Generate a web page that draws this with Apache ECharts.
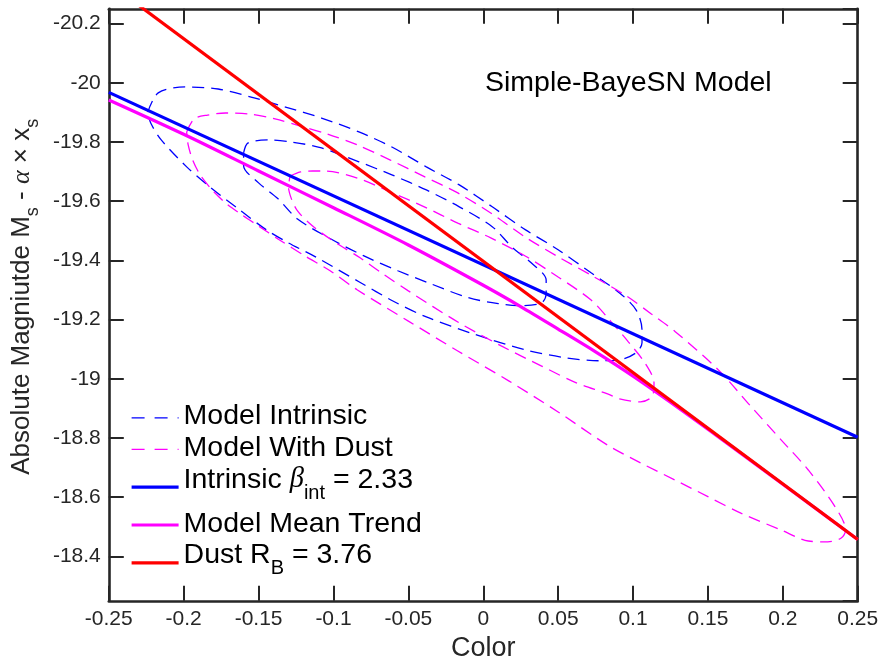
<!DOCTYPE html>
<html>
<head>
<meta charset="utf-8">
<title>Simple-BayeSN Model</title>
<script src="https://cdn.jsdelivr.net/npm/echarts@6/dist/echarts.min.js"></script>
<style>
  html, body { margin: 0; padding: 0; background: #fff; }
  #chart { width: 881px; height: 658px; }
</style>
</head>
<body>
<div id="chart"></div>
<script>
// axes: color on x, corrected absolute magnitude on y (reversed)
var colorRange = [-0.25, 0.25];
var colorStep = 0.05;
var magRange = [-20.25, -18.25];

// intrinsic model contours, [color, magnitude]
var intrinsicOuter = [
  [-0.224, -19.901], [-0.217, -19.966], [-0.199, -19.986], [-0.177, -19.979], [-0.155, -19.952],
  [-0.132, -19.918], [-0.108, -19.881], [-0.083, -19.834], [-0.061, -19.783], [-0.038, -19.716],
  [-0.016, -19.655], [0.006, -19.581], [0.028, -19.504], [0.050, -19.436], [0.072, -19.358],
  [0.091, -19.290], [0.102, -19.233], [0.106, -19.166], [0.106, -19.122], [0.102, -19.088],
  [0.091, -19.064], [0.077, -19.061], [0.055, -19.071], [0.028, -19.098], [-0.005, -19.149],
  [-0.038, -19.209], [-0.060, -19.262], [-0.083, -19.328], [-0.112, -19.412], [-0.130, -19.459],
  [-0.145, -19.504], [-0.163, -19.572], [-0.183, -19.650], [-0.198, -19.716], [-0.215, -19.807],
  [-0.222, -19.864], [-0.224, -19.901]
];
var intrinsicInner = [
  [-0.160, -19.763], [-0.157, -19.797], [-0.143, -19.807], [-0.128, -19.800], [-0.108, -19.780],
  [-0.083, -19.733], [-0.061, -19.689], [-0.038, -19.638], [-0.016, -19.581], [0.006, -19.514],
  [0.019, -19.446], [0.032, -19.392], [0.042, -19.334], [0.042, -19.290], [0.039, -19.257],
  [0.025, -19.247], [0.010, -19.254], [-0.010, -19.274], [-0.035, -19.321], [-0.057, -19.365],
  [-0.080, -19.416], [-0.102, -19.473], [-0.124, -19.540], [-0.137, -19.608], [-0.150, -19.662],
  [-0.160, -19.720], [-0.160, -19.763]
];

// model with dust contours
var dustOuter = [
  [-0.198, -19.834], [-0.193, -19.878], [-0.184, -19.891], [-0.172, -19.898], [-0.157, -19.895],
  [-0.139, -19.878], [-0.122, -19.854], [-0.104, -19.827], [-0.084, -19.790], [-0.062, -19.739],
  [-0.039, -19.682], [-0.017, -19.628], [0.005, -19.560], [0.028, -19.479], [0.050, -19.412],
  [0.072, -19.350], [0.095, -19.282], [0.112, -19.220], [0.128, -19.160], [0.157, -19.030],
  [0.179, -18.905], [0.199, -18.793], [0.217, -18.692], [0.235, -18.567], [0.242, -18.489],
  [0.239, -18.462], [0.230, -18.449], [0.217, -18.452], [0.199, -18.489], [0.172, -18.546],
  [0.150, -18.602], [0.128, -18.658], [0.105, -18.716], [0.083, -18.776], [0.050, -18.888],
  [0.017, -18.993], [-0.017, -19.094], [-0.050, -19.195], [-0.084, -19.300], [-0.102, -19.364],
  [-0.119, -19.415], [-0.136, -19.469], [-0.150, -19.516], [-0.162, -19.557], [-0.172, -19.594],
  [-0.181, -19.638], [-0.189, -19.689], [-0.194, -19.739], [-0.197, -19.790], [-0.198, -19.834]
];
var dustInner = [
  [-0.129, -19.685], [-0.122, -19.699], [-0.114, -19.702], [-0.106, -19.702], [-0.084, -19.678],
  [-0.062, -19.631], [-0.039, -19.580], [-0.017, -19.526], [0.005, -19.476], [0.028, -19.415],
  [0.050, -19.344], [0.072, -19.266], [0.085, -19.195], [0.097, -19.124], [0.108, -19.053],
  [0.114, -18.986], [0.113, -18.942], [0.105, -18.922], [0.091, -18.932], [0.083, -18.949],
  [0.061, -18.989], [0.039, -19.043], [0.012, -19.111], [-0.017, -19.192], [-0.050, -19.297],
  [-0.066, -19.351], [-0.082, -19.408], [-0.096, -19.452], [-0.108, -19.493], [-0.117, -19.530],
  [-0.124, -19.567], [-0.128, -19.607], [-0.130, -19.648], [-0.129, -19.685]
];

// straight relations (beta_int = 2.33, R_B = 3.76)
var intrinsicColor = [-0.25, 0.25];
var intrinsicMag = [-19.9675, -18.8025];
var dustColor = [-0.25, 0.25];
var dustMag = [-20.337, -18.457];

// model mean trend
var trendColor = [-0.25, -0.2, -0.15, -0.1, -0.05, 0, 0.025, 0.05, 0.075, 0.1, 0.125, 0.15, 0.2, 0.25];
var trendMag = [-19.942, -19.826, -19.702, -19.578, -19.452, -19.316, -19.244, -19.168, -19.091, -19.009, -18.921, -18.830, -18.644, -18.457];

var FONT = "'Liberation Sans', Arial, Helvetica, sans-serif";
var GREEK = "'Liberation Serif', 'DejaVu Serif', serif";
var INK = '#262626';
var BLUE = '#0000ff', MAGENTA = '#ff00ff', RED = '#ff0000';

function zip(xs, ys) {
  return xs.map(function (x, i) { return [x, ys[i]]; });
}

var legendText = {
  'Model Intrinsic': '{m|Model Intrinsic}',
  'Model With Dust': '{m|Model With Dust}',
  'Intrinsic beta': '{m|Intrinsic }{g|β}{sub|int}{m| = 2.33}',
  'Model Mean Trend': '{m|Model Mean Trend}',
  'Dust RB': '{m|Dust R}{sub|B}{m| = 3.76}'
};

function contour(name, data, color) {
  return {
    name: name,
    type: 'line',
    data: data,
    smooth: 0.3,
    symbol: 'none',
    lineStyle: { color: color, width: 1.3, type: [12, 7] },
    itemStyle: { color: color },
    z: 2
  };
}

function relation(name, data, color, smooth) {
  return {
    name: name,
    type: 'line',
    data: data,
    smooth: smooth,
    symbol: 'none',
    lineStyle: { color: color, width: 3.2 },
    itemStyle: { color: color },
    z: 3
  };
}

function axisCommon() {
  return {
    type: 'value',
    axisLine: { show: true, onZero: false, lineStyle: { color: INK, width: 2.6 } },
    axisTick: { show: true, inside: true, length: 15, lineStyle: { color: INK, width: 2 } },
    splitLine: { show: false }
  };
}

var xBottom = Object.assign(axisCommon(), {
  position: 'bottom',
  min: colorRange[0], max: colorRange[1], interval: colorStep,
  name: 'Color', nameLocation: 'middle', nameGap: 26,
  nameTextStyle: { fontFamily: FONT, fontSize: 27, color: INK },
  axisLabel: { fontFamily: FONT, fontSize: 21, color: INK, margin: 8 }
});
var xTop = Object.assign(axisCommon(), {
  position: 'top',
  min: colorRange[0], max: colorRange[1], interval: colorStep,
  axisLabel: { show: false }
});
var yLeft = Object.assign(axisCommon(), {
  position: 'left', inverse: true,
  min: magRange[0], max: magRange[1], splitNumber: 10, minInterval: 0.2, maxInterval: 0.2,
  name: 'Absolute Magniutde M{sub|s} - {g|α} × x{sub|s}',
  nameLocation: 'middle', nameGap: 65,
  nameTextStyle: {
    fontFamily: FONT, fontSize: 26, color: INK, lineHeight: 40,
    padding: [0, 0, 0, 16],
    rich: {
      sub: { fontFamily: FONT, fontSize: 18, verticalAlign: 'bottom' },
      g: { fontFamily: GREEK, fontStyle: 'italic', fontSize: 26 }
    }
  },
  axisLabel: { fontFamily: FONT, fontSize: 21, color: INK, margin: 8, showMinLabel: false, showMaxLabel: false }
});
var yRight = Object.assign(axisCommon(), {
  position: 'right', inverse: true,
  min: magRange[0], max: magRange[1], splitNumber: 10, minInterval: 0.2, maxInterval: 0.2,
  axisLabel: { show: false }
});

var chart = echarts.init(document.getElementById('chart'), null, { renderer: 'canvas' });

chart.setOption({
  animation: false,
  backgroundColor: '#fff',
  grid: { left: 108.8, right: 23.3, top: 8.8, bottom: 57.2, containLabel: false, outerBoundsMode: 'none' },
  xAxis: [xBottom, xTop],
  yAxis: [yLeft, yRight],
  legend: {
    orient: 'vertical',
    left: 130,
    top: 402,
    padding: 0,
    itemGap: 0,
    itemWidth: 47,
    itemHeight: 14,
    selectedMode: false,
    itemStyle: { opacity: 0 },
    lineStyle: { width: 'inherit' },
    textStyle: {
      fontFamily: FONT, fontSize: 28.5, color: '#000', lineHeight: 31.6,
      rich: {
        m: { fontFamily: FONT, fontSize: 28.5, verticalAlign: 'top' },
        g: { fontFamily: GREEK, fontStyle: 'italic', fontSize: 28.5, verticalAlign: 'top' },
        sub: { fontFamily: FONT, fontSize: 20, verticalAlign: 'top', padding: [18, 0, 0, 0] }
      }
    },
    formatter: function (name) { return legendText[name] || name; },
    data: [
      { name: 'Model Intrinsic', lineStyle: { type: [13, 10] } },
      { name: 'Model With Dust', lineStyle: { type: [13, 10] } },
      { name: 'Intrinsic beta', textStyle: { lineHeight: 44 } },
      { name: 'Model Mean Trend' },
      { name: 'Dust RB', textStyle: { lineHeight: 44 } }
    ]
  },
  graphic: [{
    type: 'text',
    x: 485,
    y: 83.3,
    style: {
      text: 'Simple-BayeSN Model',
      font: '28.5px ' + FONT,
      fill: '#000',
      verticalAlign: 'middle'
    }
  }],
  series: [
    contour('Model Intrinsic', intrinsicOuter, BLUE),
    contour('Model Intrinsic', intrinsicInner, BLUE),
    contour('Model With Dust', dustOuter, MAGENTA),
    contour('Model With Dust', dustInner, MAGENTA),
    relation('Intrinsic beta', zip(intrinsicColor, intrinsicMag), BLUE, false),
    relation('Model Mean Trend', zip(trendColor, trendMag), MAGENTA, 0.3),
    relation('Dust RB', zip(dustColor, dustMag), RED, false)
  ]
});
</script>
</body>
</html>
